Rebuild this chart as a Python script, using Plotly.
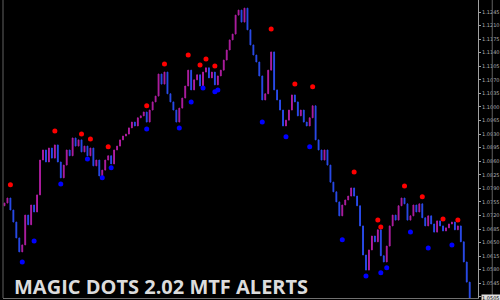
import plotly.graph_objects as go

# ---- data ----
closes = [
    1.0752, 1.0765, 1.0734, 1.0703, 1.0662, 1.0626, 1.0644, 1.0721, 1.0696, 1.0747,
    1.0729, 1.0773, 1.0863, 1.0889, 1.0858, 1.0894, 1.0868, 1.0902, 1.0858, 1.0817,
    1.0850, 1.0889, 1.0874, 1.0920, 1.0899, 1.0915, 1.0884, 1.0899, 1.0874, 1.0894,
    1.0848, 1.0863, 1.0822, 1.0837, 1.0863, 1.0874, 1.0853, 1.0889, 1.0899, 1.0915,
    1.0925, 1.0930, 1.0946, 1.0961, 1.0951, 1.0972, 1.0977, 1.0987, 1.0961, 1.0992,
    1.1013, 1.1028, 1.1085, 1.1059, 1.1090, 1.1034, 1.1013, 1.0992, 1.0961, 1.0997,
    1.1023, 1.1054, 1.1095, 1.1044, 1.1070, 1.1083, 1.1054, 1.1090, 1.1101, 1.1075,
    1.1090, 1.1057, 1.1080, 1.1095, 1.1121, 1.1147, 1.1173, 1.1188, 1.1237, 1.1250,
    1.1219, 1.1255, 1.1199, 1.1160, 1.1134, 1.1116, 1.1080, 1.1018, 1.1034, 1.1095,
    1.1142, 1.1044, 1.1018, 1.0992, 1.0951, 1.0966, 1.0992, 1.1031, 1.1013, 1.0977,
    1.0992, 1.0961, 1.0951, 1.0972, 1.1003, 1.0915, 1.0889, 1.0863, 1.0889, 1.0850,
    1.0806, 1.0781, 1.0755, 1.0719, 1.0747, 1.0760, 1.0770, 1.0791, 1.0770, 1.0745,
    1.0693, 1.0618, 1.0579, 1.0631, 1.0667, 1.0652, 1.0683, 1.0616, 1.0600, 1.0641,
    1.0693, 1.0721, 1.0708, 1.0745, 1.0765, 1.0750, 1.0708, 1.0719, 1.0747, 1.0729,
    1.0750, 1.0714, 1.0693, 1.0719, 1.0698, 1.0677, 1.0706, 1.0693, 1.0680, 1.0688,
    1.0698, 1.0703, 1.0683, 1.0693, 1.0652, 1.0600, 1.0548, 1.0497,
]
first_open = 1.0745

red_dot_bars = [2, 17, 26, 29, 35, 48, 54, 62, 66, 68, 71, 90, 98, 104, 118, 126, 127, 135, 141, 148, 153]
red_dot_prices = [1.0799, 1.0938, 1.0930, 1.0917, 1.0897, 1.1003, 1.1111, 1.1134, 1.1108, 1.1124,
                  1.1106, 1.1201, 1.1059, 1.1052, 1.0832, 1.0708, 1.0690, 1.0796, 1.0768, 1.0711, 1.0708]
blue_dot_bars = [6, 10, 19, 28, 33, 36, 48, 59, 63, 67, 71, 72, 87, 95, 103, 114, 122, 127, 129, 137, 143, 151]
blue_dot_prices = [1.0600, 1.0654, 1.0801, 1.0866, 1.0817, 1.0843, 1.0943, 1.0946, 1.1013, 1.1049,
                   1.1039, 1.1044, 1.0961, 1.0923, 1.0897, 1.0657, 1.0564, 1.0572, 1.0585, 1.0677, 1.0636, 1.0644]

price_ticks = [1.1245, 1.1210, 1.1175, 1.1140, 1.1105, 1.1070, 1.1035, 1.1000, 1.0965, 1.0930, 1.0895,
               1.0860, 1.0825, 1.0790, 1.0755, 1.0720, 1.0685, 1.0650, 1.0615, 1.0580, 1.0545, 1.0510]
price_tick_labels = ["%.4f" % v for v in price_ticks]
last_price_label = "1.0505"
title_text = "MAGIC DOTS 2.02 MTF ALERTS"

# ---- build candles ----
bars = list(range(len(closes)))
opens = [first_open] + closes[:-1]
highs = [max(o, c) for o, c in zip(opens, closes)]
lows = [min(o, c) for o, c in zip(opens, closes)]

fig = go.Figure()
fig.add_trace(go.Candlestick(
    x=bars, open=opens, high=highs, low=lows, close=closes,
    increasing=dict(line=dict(color="#b01ea2", width=1), fillcolor="#b01ea2"),
    decreasing=dict(line=dict(color="#2a4cec", width=1), fillcolor="#2a4cec"),
    whiskerwidth=0, hoverinfo="skip", showlegend=False,
))
fig.add_trace(go.Scatter(
    x=red_dot_bars, y=red_dot_prices, mode="markers",
    marker=dict(color="#ff0000", size=5, line=dict(width=0)),
    hoverinfo="skip", showlegend=False,
))
fig.add_trace(go.Scatter(
    x=blue_dot_bars, y=blue_dot_prices, mode="markers",
    marker=dict(color="#0000ff", size=5, line=dict(width=0)),
    hoverinfo="skip", showlegend=False,
))

fig.update_layout(
    width=500, height=300,
    margin=dict(l=3, r=16, t=0, b=2),
    paper_bgcolor="#000000", plot_bgcolor="#000000",
    showlegend=False,
    boxgap=0.6,
    xaxis=dict(range=[-0.5, 159.8], showgrid=False, zeroline=False, showticklabels=False,
               ticks="", showline=True, linecolor="#707070", linewidth=1,
               rangeslider=dict(visible=False)),
    yaxis=dict(range=[1.0507, 1.1276], side="right", showgrid=False, zeroline=False,
               tickvals=price_ticks, ticktext=price_tick_labels,
               tickfont=dict(family="DejaVu Sans", size=5, color="#b0b0b0"),
               ticks="outside", ticklen=2, tickcolor="#a0a0a0",
               showline=True, linecolor="#a0a0a0", linewidth=1),
    annotations=[
        dict(text="<b>" + title_text + "</b>", xref="paper", yref="paper",
             x=0.019, y=0.037, xanchor="left", yanchor="middle", showarrow=False,
             font=dict(family="Open Sans", size=20, color="#dcdcdc")),
        dict(text=last_price_label, xref="paper", yref="y", x=1.0, y=1.0507,
             xanchor="left", yanchor="middle", xshift=3, showarrow=False,
             bgcolor="#e0e0e0", borderpad=0,
             font=dict(family="DejaVu Sans", size=5, color="#000000")),
    ],
    shapes=[
        dict(type="line", xref="paper", yref="paper", x0=0, x1=0, y0=0, y1=1,
             line=dict(color="#606060", width=1)),
        dict(type="line", xref="paper", yref="paper", x0=1.03, x1=1.03, y0=0, y1=1,
             line=dict(color="#606060", width=1)),
    ],
)

fig.write_html("out.html")
